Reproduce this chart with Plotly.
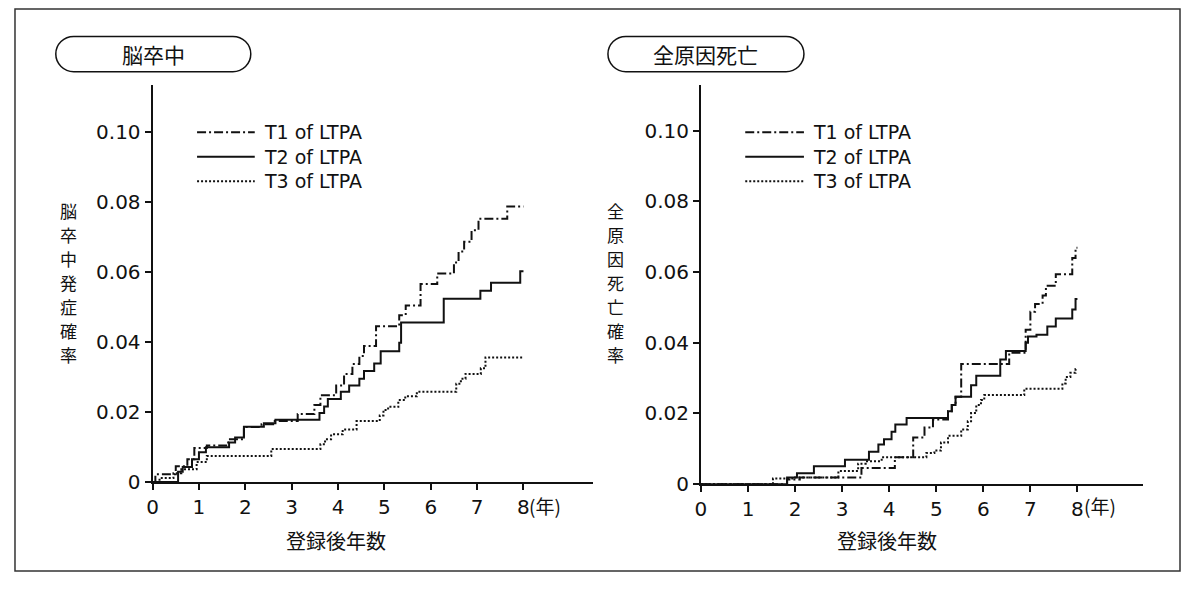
import plotly.graph_objects as go

W, H = 1189, 592          # target picture size
OFF = 8                   # default page (body) margin of the html page

# ---------------- data ----------------
x_tick_vals = [0, 1, 2, 3, 4, 5, 6, 7, 8]
x_tick_labels = ["0", "1", "2", "3", "4", "5", "6", "7", "8"]
y_tick_vals = [0, 0.02, 0.04, 0.06, 0.08, 0.10]
y_tick_labels = ["0", "0.02", "0.04", "0.06", "0.08", "0.10"]

series_names = ["T1 of LTPA", "T2 of LTPA", "T3 of LTPA"]
panel_titles = ["脳卒中", "全原因死亡"]
y_titles = ["脳卒中発症確率", "全原因死亡確率"]
x_title = "登録後年数"
year_unit = "(年)"

# Left panel: stroke
stroke_t1_time = [0, 0.06, 0.50, 0.75, 0.90, 1.17, 1.63, 1.97, 2.35, 2.6, 3.13, 3.49, 3.62, 3.96, 4.13,
                  4.31, 4.46, 4.56, 4.82, 5.32, 5.46, 5.78, 6.14, 6.5, 6.6, 6.72, 6.88, 7.03, 7.65, 8.0]
stroke_t1_prob = [0, 0.0022, 0.0045, 0.0065, 0.0097, 0.0104, 0.0122, 0.0157, 0.0165, 0.0174, 0.0194, 0.022,
                  0.0248, 0.0276, 0.0309, 0.0337, 0.036, 0.0389, 0.0445, 0.0477, 0.0505, 0.0566, 0.0596,
                  0.0628, 0.0659, 0.0687, 0.072, 0.0753, 0.0788, 0.0788]

stroke_t2_time = [0, 0.55, 0.65, 0.85, 1.0, 1.15, 1.65, 1.78, 1.97, 2.4, 2.65, 3.6, 3.7, 3.78, 4.06, 4.24,
                  4.46, 4.56, 4.78, 4.92, 5.32, 5.36, 6.28, 7.07, 7.30, 7.93, 8.0]
stroke_t2_prob = [0, 0.0029, 0.0043, 0.0065, 0.0085, 0.0099, 0.0113, 0.0127, 0.0158, 0.0168, 0.0178,
                  0.0197, 0.0216, 0.0237, 0.0258, 0.0276, 0.0295, 0.0317, 0.0339, 0.0374, 0.0398, 0.0456,
                  0.0524, 0.0547, 0.057, 0.0603, 0.0603]

stroke_t3_time = [0, 0.15, 0.45, 0.62, 0.95, 1.17, 2.56, 3.62, 3.72, 3.85, 4.1, 4.4, 4.9, 4.98, 5.08,
                  5.3, 5.45, 5.7, 6.55, 6.65, 6.75, 7.08, 7.18, 8.0]
stroke_t3_prob = [0, 0.0011, 0.0025, 0.0036, 0.0057, 0.0074, 0.0094, 0.0108, 0.0122, 0.0136, 0.015,
                  0.0174, 0.019, 0.0206, 0.0215, 0.0234, 0.0245, 0.0258, 0.0281, 0.0295, 0.0309, 0.0325,
                  0.0356, 0.0356]

# Right panel: all-cause death
death_t1_time = [0, 1.83, 2.1, 3.41, 4.12, 4.51, 4.75, 4.93, 5.25, 5.33, 5.41, 5.53, 6.55, 6.9, 7.0,
                 7.1, 7.26, 7.33, 7.54, 7.89, 7.96, 8.0]
death_t1_prob = [0, 0.0013, 0.0019, 0.0046, 0.0076, 0.0132, 0.016, 0.0183, 0.0206, 0.0224, 0.0247,
                 0.034, 0.0372, 0.0437, 0.0488, 0.051, 0.0534, 0.0561, 0.0594, 0.064, 0.0669, 0.0669]

death_t2_time = [0, 1.83, 2.04, 2.40, 3.06, 3.57, 3.77, 3.89, 4.05, 4.13, 4.37, 5.25, 5.33, 5.41, 5.74,
                 5.85, 6.36, 6.48, 6.9, 6.95, 7.13, 7.36, 7.54, 7.89, 7.96, 8.0]
death_t2_prob = [0, 0.0019, 0.0031, 0.0051, 0.0069, 0.0092, 0.0112, 0.0127, 0.0148, 0.0169, 0.0187,
                 0.0206, 0.0224, 0.0247, 0.028, 0.0307, 0.0353, 0.0377, 0.04, 0.0418, 0.0423, 0.0446,
                 0.0469, 0.0494, 0.0524, 0.0524]

death_t3_time = [0, 1.53, 2.0, 2.92, 3.34, 3.5, 3.84, 4.79, 4.96, 5.1, 5.25, 5.53, 5.67, 5.74, 5.85,
                 5.95, 6.02, 6.87, 7.68, 7.75, 7.85, 7.96, 8.0]
death_t3_prob = [0, 0.0016, 0.0019, 0.0037, 0.0058, 0.0065, 0.0076, 0.0088, 0.0095, 0.0118, 0.0137,
                 0.0155, 0.0178, 0.0201, 0.0224, 0.0238, 0.0252, 0.027, 0.0285, 0.0303, 0.0315, 0.0326,
                 0.0326]

# ---------------- styles ----------------
INK = "#111111"
LATIN = "DejaVu Sans, Liberation Sans, Arial, sans-serif"
CJK = "Noto Sans CJK JP, Noto Sans CJK SC, sans-serif"
DASHES = ["9px,3px,2px,3px", "solid", "2px,2px"]

# figure size chosen so that figure + default body margins fill the page exactly
FW, FH = W - 2 * OFF, H - 2 * OFF


def px(x):
    return (x - OFF) / FW


def py(y):
    return 1 - (y - OFF) / FH


fig = go.Figure()

panels = [
    dict(xa="x", ya="y",
         series=[(stroke_t1_time, stroke_t1_prob), (stroke_t2_time, stroke_t2_prob),
                 (stroke_t3_time, stroke_t3_prob)]),
    dict(xa="x2", ya="y2",
         series=[(death_t1_time, death_t1_prob), (death_t2_time, death_t2_prob),
                 (death_t3_time, death_t3_prob)]),
]

for p in panels:
    for name, (t, v), dash in zip(series_names, p["series"], DASHES):
        fig.add_trace(go.Scatter(
            x=t, y=v, mode="lines", name=name, showlegend=False,
            line=dict(shape="hv", color=INK, width=2, dash=dash),
            xaxis=p["xa"], yaxis=p["ya"],
        ))

axis_common = dict(showgrid=False, zeroline=False, showline=True, linecolor=INK, linewidth=2,
                   ticks="outside", ticklen=6, tickwidth=1.5, tickcolor=INK,
                   tickfont=dict(family=LATIN, size=20, color=INK))

# geometry (pixel positions of the axes in the target picture)
L_x0, L_xend, L_y0, L_ytop = 147.3, 590.0, 492.0, 87.0
R_x0, R_xend, R_y0, R_ytop = 698.5, 1143.0, 494.3, 87.0
L_ppy, R_ppy = 46.6, 47.3          # px per year
L_ppv, R_ppv = 3570.0, 3610.0      # px per unit probability

fig.update_layout(
    width=FW, height=FH, margin=dict(l=0, r=0, t=0, b=0, pad=0),
    paper_bgcolor="white", plot_bgcolor="white", showlegend=False,
    xaxis=dict(domain=[px(L_x0), px(L_xend)], range=[0, (L_xend - L_x0) / L_ppy], anchor="y",
               tickvals=x_tick_vals, ticktext=x_tick_labels, **axis_common),
    yaxis=dict(domain=[py(L_y0), py(L_ytop)], range=[0, (L_y0 - L_ytop) / L_ppv], anchor="x",
               tickvals=y_tick_vals, ticktext=y_tick_labels, **axis_common),
    xaxis2=dict(domain=[px(R_x0), px(R_xend)], range=[0, (R_xend - R_x0) / R_ppy], anchor="y2",
                tickvals=x_tick_vals, ticktext=x_tick_labels, **axis_common),
    yaxis2=dict(domain=[py(R_y0), py(R_ytop)], range=[0, (R_y0 - R_ytop) / R_ppv], anchor="x2",
                tickvals=y_tick_vals, ticktext=y_tick_labels, **axis_common),
)

shapes = []
annotations = []

# outer frame
shapes.append(dict(type="rect", xref="paper", yref="paper",
                   x0=px(9), x1=px(1180), y0=py(583), y1=py(9),
                   line=dict(color="#333", width=1.5), fillcolor="rgba(0,0,0,0)"))


def pill(x0, x1, y0, y1):
    r = (y1 - y0) / 2
    k = 0.5523 * r
    pts = [
        ("M", [(x0 + r, y0)]),
        ("L", [(x1 - r, y0)]),
        ("C", [(x1 - r + k, y0), (x1, y0 + r - k), (x1, y0 + r)]),
        ("C", [(x1, y0 + r + k), (x1 - r + k, y1), (x1 - r, y1)]),
        ("L", [(x0 + r, y1)]),
        ("C", [(x0 + r - k, y1), (x0, y1 - r + k), (x0, y1 - r)]),
        ("C", [(x0, y1 - r - k), (x0 + r - k, y0), (x0 + r, y0)]),
    ]
    d = ""
    for cmd, ps in pts:
        d += cmd + " " + " ".join(f"{px(a):.5f},{py(b):.5f}" for a, b in ps) + " "
    return d + "Z"


panel_geo = [
    dict(pill=(50, 246, 37, 73), ytitle_x=63, ytitle_top=215, xtitle_x=332,
         leg_x0=192, leg_x1=250, leg_tx=257, unit_x=524),
    dict(pill=(605, 802, 37, 73), ytitle_x=613, ytitle_top=215, xtitle_x=885,
         leg_x0=743, leg_x1=802, leg_tx=809, unit_x=1081),
]
legend_rows_y = [135, 160, 185]
YT_PITCH = 24.5

for g, title, ytitle in zip(panel_geo, panel_titles, y_titles):
    x0, x1, y0, y1 = g["pill"]
    shapes.append(dict(type="path", xref="paper", yref="paper", path=pill(x0, x1, y0, y1),
                       line=dict(color=INK, width=1.5), fillcolor="rgba(0,0,0,0)"))
    annotations.append(dict(text=title, xref="paper", yref="paper", x=px((x0 + x1) / 2), y=py(55),
                            xanchor="center", yanchor="middle", showarrow=False,
                            font=dict(family=CJK, size=21, color=INK)))
    # vertical (stacked, upright) axis title
    for i, ch in enumerate(ytitle):
        annotations.append(dict(text=ch, xref="paper", yref="paper",
                                x=px(g["ytitle_x"]), y=py(g["ytitle_top"] + i * YT_PITCH),
                                xanchor="center", yanchor="middle", showarrow=False,
                                font=dict(family=CJK, size=17, color=INK)))
    annotations.append(dict(text=x_title, xref="paper", yref="paper", x=px(g["xtitle_x"]), y=py(552),
                            xanchor="center", yanchor="middle", showarrow=False,
                            font=dict(family=CJK, size=20, color=INK)))
    annotations.append(dict(text=year_unit, xref="paper", yref="paper", x=px(g["unit_x"]), y=py(516),
                            xanchor="left", yanchor="middle", showarrow=False,
                            font=dict(family=CJK, size=19, color=INK)))
    for name, dash, ly in zip(series_names, DASHES, legend_rows_y):
        shapes.append(dict(type="line", xref="paper", yref="paper",
                           x0=px(g["leg_x0"]), x1=px(g["leg_x1"]), y0=py(ly), y1=py(ly),
                           line=dict(color=INK, width=2, dash=dash)))
        annotations.append(dict(text=name, xref="paper", yref="paper", x=px(g["leg_tx"]), y=py(ly),
                                xanchor="left", yanchor="middle", showarrow=False,
                                font=dict(family=LATIN, size=19, color=INK)))

fig.update_layout(shapes=shapes, annotations=annotations)

fig.write_html("out.html")
